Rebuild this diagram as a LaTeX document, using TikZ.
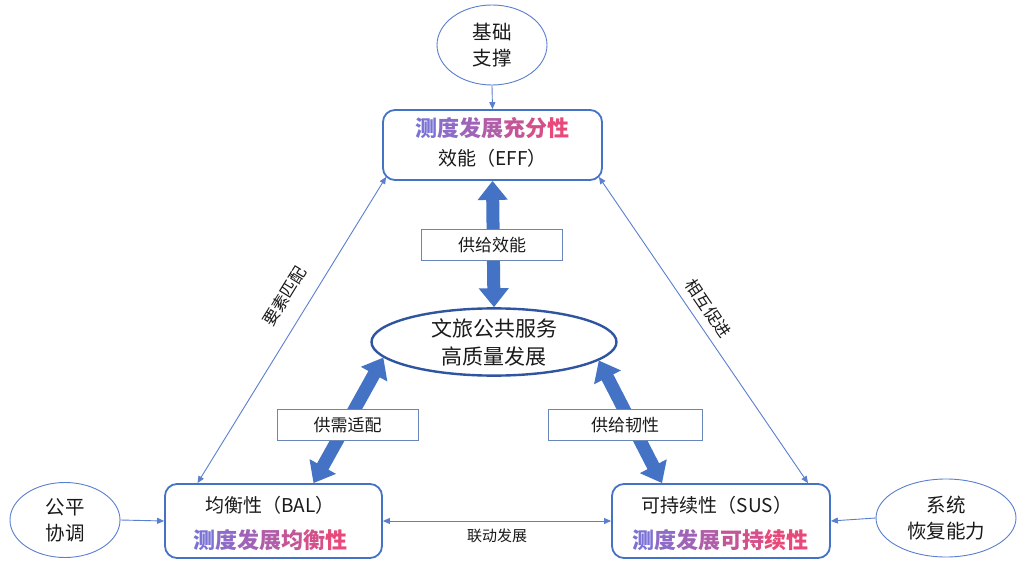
\documentclass[tikz,border=0pt]{standalone}
\usepackage{fontspec}
\setmainfont{Noto Sans CJK SC}
\usetikzlibrary{shapes.geometric,arrows.meta}
\definecolor{bl}{HTML}{4472C4}
\definecolor{thinbl}{HTML}{5B7FCF}
\definecolor{darkbl}{HTML}{2F55A0}
\definecolor{lblbd}{HTML}{6A86B8}
\definecolor{txt}{HTML}{1A1A1A}
\definecolor{gA}{HTML}{7B72D6}
\definecolor{gB}{HTML}{E8497A}
\colorlet{q1}{gA}
\colorlet{q2}{gB!17!gA}
\colorlet{q3}{gB!33!gA}
\colorlet{q4}{gB!50!gA}
\colorlet{q5}{gB!67!gA}
\colorlet{q6}{gB!83!gA}
\colorlet{q7}{gB}
\newcommand{\gradseven}[7]{\textcolor{q1}{#1}\textcolor{q2}{#2}\textcolor{q3}{#3}\textcolor{q4}{#4}\textcolor{q5}{#5}\textcolor{q6}{#6}\textcolor{q7}{#7}}
\tikzset{
  rbox/.style={draw=bl, line width=1.8pt, rounded corners=12pt, fill=white},
  smallell/.style={ellipse, draw=thinbl, line width=0.9pt, align=center, text=txt,
    font=\fontsize{19.5pt}{26pt}\selectfont, inner sep=0pt},
  lbl/.style={draw=lblbd, line width=0.8pt, fill=white, minimum height=31pt,
    text=txt, font=\fontsize{17pt}{17pt}\selectfont},
  fat/.style={draw=bl, line width=13pt,
    {Triangle[width=29pt,length=19pt]}-{Triangle[width=29pt,length=19pt]}},
  thin/.style={draw=thinbl, line width=0.9pt},
  tip/.style={-{Triangle[width=6pt,length=7pt]}},
  dtip/.style={{Triangle[width=6pt,length=7pt]}-{Triangle[width=6pt,length=7pt]}},
  line1/.style={text=txt, font=\fontsize{19pt}{19pt}\selectfont, inner sep=0pt},
  line2/.style={font=\bfseries\fontsize{22pt}{22pt}\selectfont, inner sep=0pt},
  slopelbl/.style={sloped, text=txt, font=\fontsize{16.5pt}{16.5pt}\selectfont, inner sep=0pt},
}
\begin{document}
\begin{tikzpicture}[x=1pt,y=-1pt]
\useasboundingbox (0,0) rectangle (1020,567);
\fill[white] (0,0) rectangle (1020,567);

% outer ellipses
\node[smallell, minimum width=110pt, minimum height=80pt] (jc) at (492,45) {基础\\支撑};
\node[smallell, minimum width=110pt, minimum height=75pt] (gp) at (65,520) {公平\\协调};
\node[smallell, minimum width=140pt, minimum height=78pt] (xt) at (946,518) {系统\\恢复能力};

% boxes
\node[rbox, minimum width=219pt, minimum height=70pt] (eff) at (492.5,145) {};
\node[line2] (effa) at (492.5,128) {\gradseven{测}{度}{发}{展}{充}{分}{性}};
\node[line1] (effb) at (492.5,158) {效能（EFF）};

\node[rbox, minimum width=217pt, minimum height=74pt] (bal) at (273.5,521) {};
\node[line1] (bala) at (270,505) {均衡性（BAL）};
\node[line2] (balb) at (270,540) {\gradseven{测}{度}{发}{展}{均}{衡}{性}};

\node[rbox, minimum width=218pt, minimum height=74pt] (sus) at (721,521) {};
\node[line1] (susa) at (717,505) {可持续性（SUS）};
\node[line2] (susb) at (720,540) {\gradseven{测}{度}{发}{展}{可}{持}{续}\textcolor{q7}{性}};

% center ellipse
\node[ellipse, draw=darkbl, line width=2.4pt, minimum width=245pt, minimum height=61pt,
  align=center, text=txt, font=\fontsize{21pt}{28pt}\selectfont, inner sep=0pt, fill=white]
  (c) at (494,342) {文旅公共服务\\高质量发展};

% thick arrows
\draw[fat] (eff.south) -- (c.north);
\draw[fat] (c.188) -- ([xshift=40pt]bal.north);
\draw[fat] (c.350) -- ([xshift=-59pt]sus.north);

% label boxes
\node[lbl, minimum width=141pt] (l1) at (492,245) {供给效能};
\node[lbl, minimum width=141pt] (l2) at (347.5,425) {供需适配};
\node[lbl, minimum width=154pt] (l3) at (625,425) {供给韧性};

% thin connectors
\draw[thin, tip] (jc.south) -- (eff.north);
\draw[thin, tip] (gp.east) -- (bal.west);
\draw[thin, tip] (xt.west) -- (sus.east);
\draw[thin, dtip] (bal.east) -- node[below=7pt, text=txt, font=\fontsize{15pt}{15pt}\selectfont, inner sep=0pt] (ld) {联动发展} (sus.west);
\draw[thin, dtip] ([shift={(4,-4)}]eff.south west) -- node[slopelbl, pos=0.43, above=16pt] (ys) {要素匹配} ([xshift=-76pt]bal.north);
\draw[thin, dtip] ([shift={(-4,-4)}]eff.south east) -- node[slopelbl, pos=0.46, above=8pt] (hx) {相互促进} ([xshift=87pt]sus.north);
\end{tikzpicture}
\end{document}
